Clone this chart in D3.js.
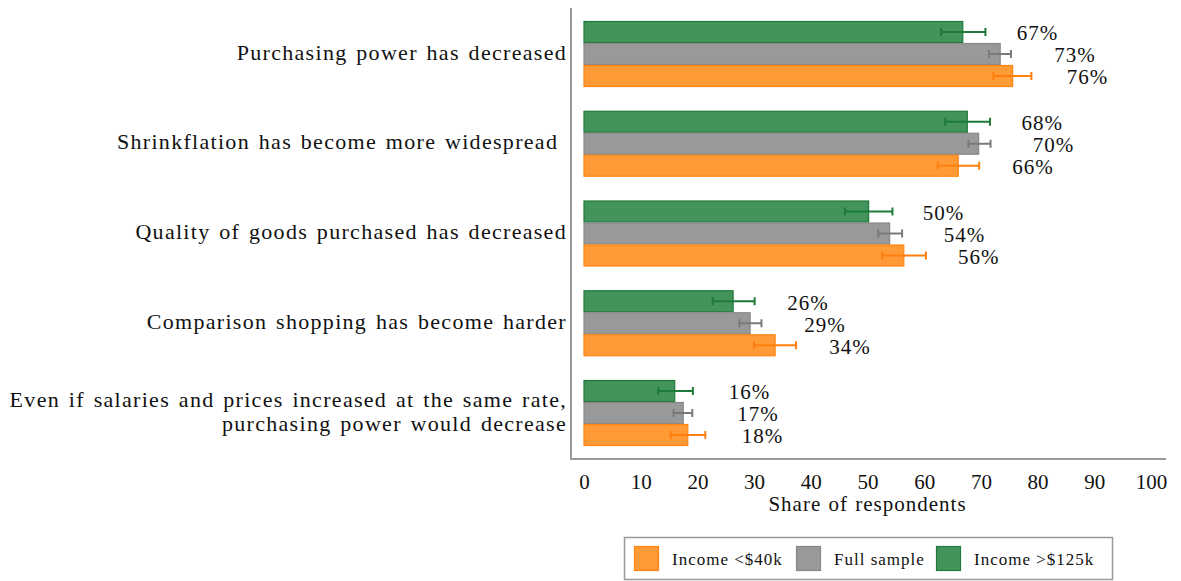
<!DOCTYPE html>
<html>
<head>
<meta charset="utf-8">
<script src="https://cdn.jsdelivr.net/npm/d3@7"></script>
<style>
  html, body { margin: 0; padding: 0; background: #fff; }
  svg { display: block; }
  text { font-family: "Liberation Serif", "Times New Roman", serif; fill: #111; }
</style>
</head>
<body>
<svg id="chart" width="1181" height="581"></svg>
<script>
// ---- data ----
const categories = [
  "Purchasing power has decreased",
  "Shrinkflation has become more widespread ",
  "Quality of goods purchased has decreased",
  "Comparison shopping has become harder",
  "Even if salaries and prices increased at the same rate,\npurchasing power would decrease"
];
const seriesNames = ["Income >$125k", "Full sample", "Income <$40k"];
const legendOrder = ["Income <$40k", "Full sample", "Income >$125k"];
// values per series (same order as categories)
const highIncome = [66.8, 67.6, 50.2, 26.3, 16.0];
const fullSample = [73.4, 69.6, 53.9, 29.3, 17.5];
const lowIncome  = [75.6, 66.0, 56.4, 33.7, 18.3];
// confidence intervals (low, high)
const highIncomeCI = [[63.0, 70.8], [63.7, 71.6], [46.0, 54.4], [22.7, 30.1], [13.1, 19.2]];
const fullSampleCI = [[71.4, 75.3], [67.8, 71.7], [51.9, 56.1], [27.4, 31.3], [15.8, 19.1]];
const lowIncomeCI  = [[72.2, 78.9], [62.4, 69.7], [52.6, 60.3], [30.0, 37.4], [15.3, 21.4]];
// percentage labels
const highIncomeLabels = ["67%", "68%", "50%", "26%", "16%"];
const fullSampleLabels = ["73%", "70%", "54%", "29%", "17%"];
const lowIncomeLabels  = ["76%", "66%", "56%", "34%", "18%"];
const xTicks = [0, 10, 20, 30, 40, 50, 60, 70, 80, 90, 100];
const xTitle = "Share of respondents";

const colors = {
  "Income >$125k": { fill: "#43945c", stroke: "#1e7a38", err: "#1e7a38" },
  "Full sample":   { fill: "#999999", stroke: "#888888", err: "#7a7a7a" },
  "Income <$40k":  { fill: "#ff9a36", stroke: "#ff8410", err: "#ff7f0e" }
};

const seriesData = [
  { name: "Income >$125k", values: highIncome, ci: highIncomeCI, labels: highIncomeLabels },
  { name: "Full sample",   values: fullSample, ci: fullSampleCI, labels: fullSampleLabels },
  { name: "Income <$40k",  values: lowIncome,  ci: lowIncomeCI,  labels: lowIncomeLabels }
];

// ---- layout ----
const svg = d3.select("#chart");
const x = d3.scaleLinear().domain([0, 100]).range([584, 1151]);
const yGroup = d3.scalePoint().domain(categories).range([54, 413]);
const barH = 22;
const yInner = d3.scaleBand().domain(seriesNames).range([-1.5 * barH, 1.5 * barH]).padding(0);

const plotLeft = 571, plotRight = 1166, plotTop = 8, plotBottom = 459;

// spines
svg.append("line").attr("x1", plotLeft).attr("x2", plotLeft).attr("y1", plotTop).attr("y2", plotBottom)
  .attr("stroke", "#9a9a9a").attr("stroke-width", 2);
svg.append("line").attr("x1", plotLeft - 1).attr("x2", plotRight).attr("y1", plotBottom).attr("y2", plotBottom)
  .attr("stroke", "#9a9a9a").attr("stroke-width", 2);

// x axis ticks (labels only)
const xAxis = d3.axisBottom(x).tickValues(xTicks).tickSize(0).tickPadding(0).tickFormat(d3.format("d"));
const gx = svg.append("g").attr("transform", `translate(0, ${plotBottom + 30})`).call(xAxis);
gx.select(".domain").remove();
gx.selectAll("text").attr("dy", 0).attr("font-size", 21).attr("font-family", "Liberation Serif").attr("fill", "#111");

svg.append("text").attr("x", (x(0) + x(100)) / 2).attr("y", 511).attr("text-anchor", "middle")
  .attr("font-size", 21).attr("letter-spacing", 1).attr("word-spacing", 1).text(xTitle);

// bars
const groups = svg.selectAll("g.series").data(seriesData).join("g").attr("class", "series");
groups.each(function(s) {
  const g = d3.select(this);
  const c = colors[s.name];
  categories.forEach((cat, i) => {
    const y0 = yGroup(cat) + yInner(s.name);
    const cy = y0 + barH / 2;
    g.append("rect").attr("x", x(0)).attr("y", y0 + 0.5).attr("width", x(s.values[i]) - x(0)).attr("height", barH - 1)
      .attr("fill", c.fill).attr("stroke", c.stroke).attr("stroke-width", 1.2);
    const [lo, hi] = s.ci[i];
    g.append("line").attr("x1", x(lo)).attr("x2", x(hi)).attr("y1", cy).attr("y2", cy)
      .attr("stroke", c.err).attr("stroke-width", 2);
    [lo, hi].forEach(v => g.append("line").attr("x1", x(v)).attr("x2", x(v)).attr("y1", cy - 4).attr("y2", cy + 4)
      .attr("stroke", c.err).attr("stroke-width", 2));
    g.append("text").attr("x", x(s.values[i] + 13.2)).attr("y", cy + 1).attr("dy", "0.35em")
      .attr("text-anchor", "middle").attr("font-size", 21).attr("letter-spacing", 1).text(s.labels[i]);
  });
});

// category labels
categories.forEach(cat => {
  const lines = cat.split("\n");
  const cy = yGroup(cat) - 2;
  const lh = 24;
  const t = svg.append("text").attr("text-anchor", "end").attr("font-size", 22)
    .attr("letter-spacing", 1.3).attr("word-spacing", 2).style("white-space", "pre");
  lines.forEach((ln, k) => {
    t.append("tspan").attr("x", 567).attr("y", cy + (k - (lines.length - 1) / 2) * lh).attr("dy", "0.35em").text(ln);
  });
});

// legend
const lg = svg.append("g");
lg.append("rect").attr("x", 624.5).attr("y", 537.5).attr("width", 488).attr("height", 42)
  .attr("fill", "#fff").attr("stroke", "#999").attr("stroke-width", 1.5);
const legendX = [634, 796, 936];
legendOrder.forEach((name, i) => {
  const c = colors[name];
  lg.append("rect").attr("x", legendX[i] + 0.5).attr("y", 546.5).attr("width", 24).attr("height", 24)
    .attr("fill", c.fill).attr("stroke", c.stroke).attr("stroke-width", 1.2);
  lg.append("text").attr("x", legendX[i] + 38).attr("y", 559).attr("dy", "0.35em").attr("font-size", 17)
    .attr("letter-spacing", 1).text(name);
});
</script>
</body>
</html>
